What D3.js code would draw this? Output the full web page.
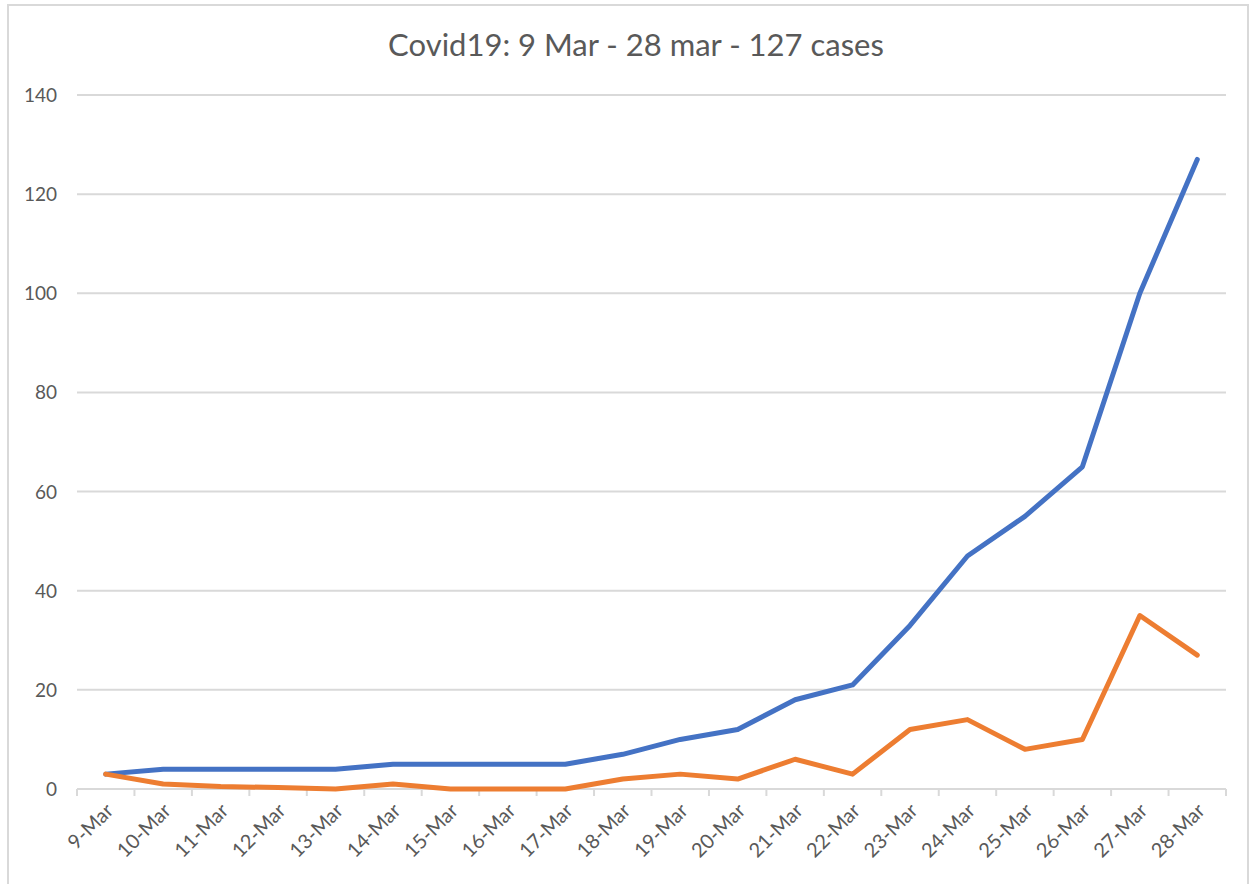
<!DOCTYPE html>
<html>
<head>
<meta charset="utf-8">
<script src="https://cdn.jsdelivr.net/npm/d3@7"></script>
<style>
  body { margin: 0; background: #fff; }
  svg { display: block; }
</style>
</head>
<body>
<script>
// data
var days = ["9-Mar","10-Mar","11-Mar","12-Mar","13-Mar","14-Mar","15-Mar","16-Mar","17-Mar","18-Mar",
            "19-Mar","20-Mar","21-Mar","22-Mar","23-Mar","24-Mar","25-Mar","26-Mar","27-Mar","28-Mar"];
var totalCases = [3,4,4,4,4,5,5,5,5,7,10,12,18,21,33,47,55,65,100,127];
var newCases   = [3,1,0.5,0.3,0,1,0,0,0,2,3,2,6,3,12,14,8,10,35,27];
var yTicks = [0,20,40,60,80,100,120,140];
var title = "Covid19: 9 Mar - 28 mar - 127 cases";

var W = 1250, H = 884;
var margin = {left: 77, right: 24, top: 95, bottom: 95};
var textColor = "#595959";
var font = "Lato, 'Open Sans', sans-serif";

var svg = d3.select("body").append("svg")
    .attr("width", W)
    .attr("height", H);

// chart frame
svg.append("rect")
    .attr("x", 8).attr("y", 5)
    .attr("width", 1240).attr("height", 890)
    .attr("fill", "#fff")
    .attr("stroke", "#d9d9d9")
    .attr("stroke-width", 2);

var x = d3.scaleBand()
    .domain(days)
    .range([margin.left, W - margin.right]);

var y = d3.scaleLinear()
    .domain([0, 140])
    .range([789, 95]);

// gridlines
svg.append("g")
    .selectAll("line")
    .data(yTicks.slice(1))
    .enter()
    .append("line")
    .attr("x1", margin.left)
    .attr("x2", W - margin.right)
    .attr("y1", function(d){ return y(d); })
    .attr("y2", function(d){ return y(d); })
    .attr("stroke", "#d9d9d9")
    .attr("stroke-width", 2);

// y labels
svg.append("g")
    .selectAll("text")
    .data(yTicks)
    .enter()
    .append("text")
    .attr("x", 57)
    .attr("y", function(d){ return y(d) + 7; })
    .attr("text-anchor", "end")
    .attr("fill", textColor)
    .attr("font-family", font)
    .attr("font-size", 19)
    .text(function(d){ return d; });

// x axis line + ticks between categories
var xAxis = svg.append("g")
    .attr("transform", "translate(0," + y(0) + ")");

xAxis.append("line")
    .attr("x1", margin.left)
    .attr("x2", W - margin.right)
    .attr("stroke", "#d9d9d9")
    .attr("stroke-width", 2);

var edges = days.map(function(d){ return x(d); }).concat([x(days[days.length - 1]) + x.bandwidth()]);
xAxis.selectAll("line.tick")
    .data(edges)
    .enter()
    .append("line")
    .attr("class", "tick")
    .attr("x1", function(d){ return d; })
    .attr("x2", function(d){ return d; })
    .attr("y1", 0)
    .attr("y2", 7)
    .attr("stroke", "#d9d9d9")
    .attr("stroke-width", 2);

xAxis.selectAll("text")
    .data(days)
    .enter()
    .append("text")
    .attr("transform", function(d){
        return "translate(" + (x(d) + x.bandwidth() / 2 + 4) + ",18) rotate(-45)";
    })
    .attr("text-anchor", "end")
    .attr("dy", "0.35em")
    .attr("fill", textColor)
    .attr("font-family", font)
    .attr("font-size", 20)
    .text(function(d){ return d; });

// lines
var line = d3.line()
    .x(function(d, i){ return x(days[i]) + x.bandwidth() / 2; })
    .y(function(d){ return y(d); });

svg.append("path")
    .datum(totalCases)
    .attr("d", line)
    .attr("fill", "none")
    .attr("stroke", "#4472c4")
    .attr("stroke-width", 5)
    .attr("stroke-linejoin", "round")
    .attr("stroke-linecap", "round");

svg.append("path")
    .datum(newCases)
    .attr("d", line)
    .attr("fill", "none")
    .attr("stroke", "#ed7d31")
    .attr("stroke-width", 5)
    .attr("stroke-linejoin", "round")
    .attr("stroke-linecap", "round");

// title
svg.append("text")
    .attr("x", 636)
    .attr("y", 56)
    .attr("text-anchor", "middle")
    .attr("fill", textColor)
    .attr("font-family", font)
    .attr("font-size", 31)
    .text(title);
</script>
</body>
</html>
